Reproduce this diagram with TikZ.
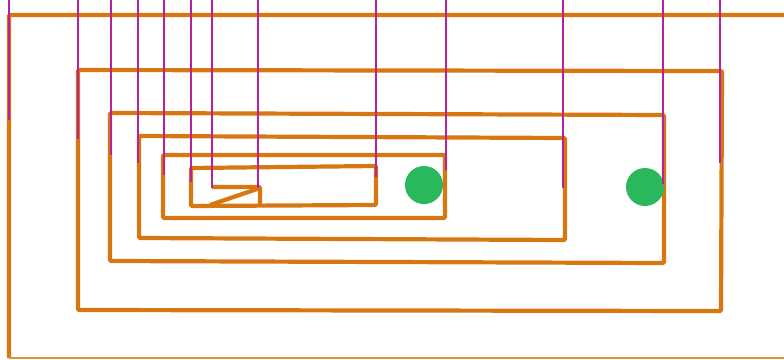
\documentclass[tikz,border=0pt]{standalone}
\usepackage{tikz}
\definecolor{bord}{HTML}{D67712}
\definecolor{wire}{HTML}{B5229A}
\definecolor{dot}{HTML}{2AB85C}
\tikzset{
  frame/.style={draw=bord, line width=4.2pt, line join=round, rounded corners=1pt},
  wirel/.style={draw=wire, line width=1.5pt},
  blob/.style={fill=dot, draw=none}
}
\begin{document}
\begin{tikzpicture}[x=1pt,y=-1pt]
\useasboundingbox (0,0) rectangle (784,359);
\begin{scope}
\clip (0,0) rectangle (784,359);
% outer frame
\draw[frame] (9,358) -- (9,15) -- (800,15);
\draw[draw=bord!80, line width=2.5pt] (9,358) -- (800,358);
% nested frames
\draw[frame] (78,70) -- (722,71) -- (721,311) -- (78,310) -- cycle;
\draw[frame] (110,113) -- (664,115) -- (664,263) -- (110,261) -- cycle;
\draw[frame] (139,136) -- (565,138) -- (565,240) -- (139,238) -- cycle;
\draw[frame] (163,155) -- (445,155) -- (445,218) -- (163,218) -- cycle;
\draw[frame] (191,168) -- (376,166) -- (376,205) -- (191,206) -- cycle;
% Z shape
\draw[frame] (212,187) -- (260,187) -- (260,204);
\draw[frame] (260,188) -- (210,205);
\end{scope}
% dots
\fill[blob] (424,185) circle (19);
\fill[blob] (645,187) circle (19);
% wires
\foreach \x/\y in {9/120, 78/139, 111/155, 138/163, 164/175, 191/182, 212/188, 258/188, 376/177, 446/170, 563/188, 663/184, 720/163}
  \draw[wirel] (\x,0) -- (\x,\y);
\end{tikzpicture}
\end{document}
